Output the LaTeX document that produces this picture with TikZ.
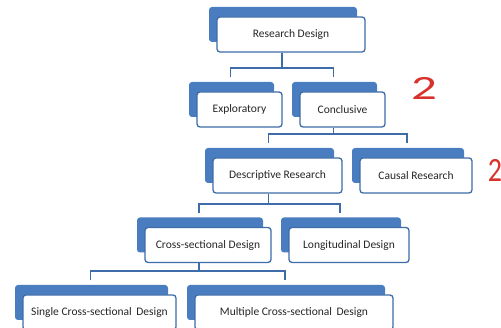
\documentclass[tikz,border=0pt]{standalone}
\usepackage{fontspec}
\setmainfont{Carlito}
\usetikzlibrary{shadows}
\definecolor{tabblue}{HTML}{4A7DC0}
\definecolor{edgeblue}{HTML}{3D6CA8}
\definecolor{penred}{HTML}{D8322C}

\begin{document}
\begin{tikzpicture}[x=1pt,y=-1pt,
  box/.style={draw=edgeblue, line width=1.3pt, fill=white, rounded corners=3pt, inner sep=0pt, minimum height=35pt, font=\fontsize{11.5}{13}\selectfont, text=black!85, general shadow={fill=tabblue, shadow xshift=-8pt, shadow yshift=10pt}},
  link/.style={draw=edgeblue, line width=1.8pt},
  pen/.style={text=penred, font=\fontsize{34}{34}\selectfont, xscale=1.5}]
\clip (0,0) rectangle (501,328);
\node[box, minimum width=148pt] (n00) at (291,34.5) {Research Design};
\node[box, minimum width=85pt] (n10) at (239.5,109.5) {Exploratory};
\node[box, minimum width=85pt] (n11) at (342.5,109.5) {Conclusive};
\node[box, minimum width=129pt] (n20) at (277.5,175.5) {Descriptive Research};
\node[box, minimum width=112pt] (n21) at (416,175.5) {Causal Research};
\node[box, minimum width=126pt] (n30) at (208,245) {Cross-sectional Design};
\node[box, minimum width=120pt] (n31) at (349,245) {Longitudinal Design};
\node[box, minimum width=153pt] (n40) at (99.5,312.5) {Single Cross-sectional\, Design};
\node[box, minimum width=198pt] (n41) at (294,312.5) {Multiple Cross-sectional\, Design};
\node[pen] (m1) at (424,88) {2};
\node[pen, xscale=0.55] (m2) at (495,170) {2};
\foreach \n in {n00,n11,n20,n30}
  \coordinate (\n-out) at ([xshift=-9pt]\n.south);
\foreach \n in {n10,n11,n20,n21,n30,n31,n40,n41}
{
  \coordinate (\n-in) at ([xshift=-9pt,yshift=14pt]\n.north);
  \coordinate (\n-bus) at ([yshift=9pt]\n-in);
}
\foreach \p/\a/\b in {n00/n10/n11, n11/n20/n21, n20/n30/n31, n30/n40/n41}
  \draw[link] (\p-out) -- (\p-out |- \a-bus) (\a-in) |- (\b-bus) -- (\b-in);
\end{tikzpicture}
\end{document}
